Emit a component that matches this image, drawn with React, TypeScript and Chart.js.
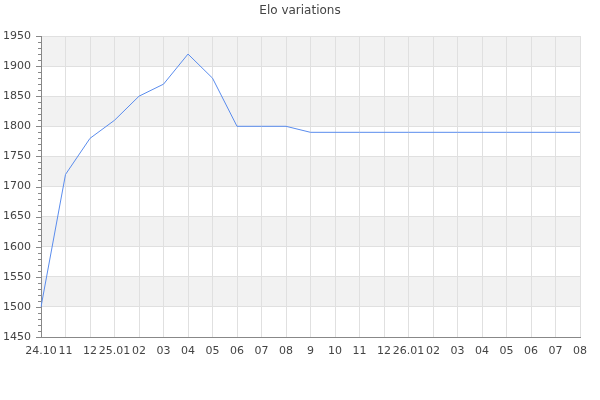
import React, { useEffect, useRef } from "react";
import { Chart, registerables } from "chart.js";

Chart.register(...registerables);

const TITLE = "Elo variations";
const monthLabels = [
  "24.10", "11", "12", "25.01", "02", "03", "04", "05", "06", "07", "08",
  "9", "10", "11", "12", "26.01", "02", "03", "04", "05", "06", "07", "08",
];
const eloValues = [
  1500, 1720, 1780, 1810, 1850, 1870, 1920, 1880, 1800, 1800, 1800,
  1790, 1790, 1790, 1790, 1790, 1790, 1790, 1790, 1790, 1790, 1790, 1790,
];
const yMin = 1450;
const yMax = 1950;
const majorStep = 50;
const minorStep = 10;
const shadedBandStarts = [1500, 1600, 1700, 1800, 1900];

const bandsPlugin = {
  id: "bands",
  beforeDraw(chart: any) {
    const { ctx, chartArea, scales } = chart;
    const y = scales.y;
    ctx.save();
    ctx.fillStyle = "#ffffff";
    ctx.fillRect(0, 0, chart.width, chart.height);
    ctx.fillStyle = "#f2f2f2";
    for (const s of shadedBandStarts) {
      const top = y.getPixelForValue(s + majorStep);
      const bottom = y.getPixelForValue(s);
      ctx.fillRect(chartArea.left, top, chartArea.right - chartArea.left, bottom - top);
    }
    ctx.restore();
  },
};

const yTicksPlugin = {
  id: "yTickMarks",
  afterDraw(chart: any) {
    const { ctx, scales, chartArea } = chart;
    const y = scales.y;
    ctx.save();
    ctx.strokeStyle = "#888888";
    ctx.lineWidth = 1;
    for (const t of y.ticks) {
      const py = Math.round(y.getPixelForValue(t.value)) + 0.5;
      const len = t.value % majorStep === 0 ? 5 : 3;
      ctx.beginPath();
      ctx.moveTo(chartArea.left - len, py);
      ctx.lineTo(chartArea.left, py);
      ctx.stroke();
    }
    ctx.restore();
  },
};

export default function App() {
  const ref = useRef<HTMLCanvasElement | null>(null);

  useEffect(() => {
    if (!ref.current) return;
    const chart = new Chart(ref.current, {
      type: "line",
      data: {
        labels: monthLabels,
        datasets: [
          {
            data: eloValues,
            borderColor: "#5a8ced",
            borderWidth: 1,
            pointRadius: 0,
            pointHoverRadius: 0,
            tension: 0,
            fill: false,
          },
        ],
      },
      options: {
        animation: false,
        responsive: false,
        layout: { padding: 0 },
        plugins: {
          legend: { display: false },
          tooltip: { enabled: false },
          title: {
            display: true,
            text: TITLE,
            color: "#444444",
            font: { family: "DejaVu Sans", size: 12, weight: "normal" },
            padding: { top: 4, bottom: 17.6 },
          },
        },
        scales: {
          x: {
            type: "category",
            offset: false,
            grid: { color: "#e0e0e0", drawTicks: false },
            border: { color: "#888888" },
            ticks: {
              autoSkip: false,
              maxRotation: 0,
              minRotation: 0,
              padding: 8,
              color: "#444444",
              font: { family: "DejaVu Sans", size: 11 },
            },
            afterFit(scale: any) {
              scale.height = 63;
              scale.paddingLeft = 0;
              scale.paddingRight = 20;
            },
          },
          y: {
            type: "linear",
            min: yMin,
            max: yMax,
            grid: {
              drawTicks: false,
              color: (c: any) =>
                c.tick && c.tick.value % majorStep === 0 ? "#e0e0e0" : "rgba(0,0,0,0)",
            },
            border: { color: "#888888" },
            ticks: {
              stepSize: minorStep,
              autoSkip: false,
              padding: 10,
              color: "#444444",
              font: { family: "DejaVu Sans", size: 11 },
              callback: (v: any) => (Number(v) % majorStep === 0 ? String(v) : ""),
            },
            afterFit(scale: any) {
              scale.width = 41;
              scale.paddingTop = 0;
              scale.paddingBottom = 0;
            },
          },
        },
      },
      plugins: [bandsPlugin, yTicksPlugin],
    });
    return () => chart.destroy();
  }, []);

  return (
    <div style={{ position: "absolute", left: 0, top: 0, width: 600, height: 400 }}>
      <canvas ref={ref} width={600} height={400} style={{ width: 600, height: 400 }} />
    </div>
  );
}
